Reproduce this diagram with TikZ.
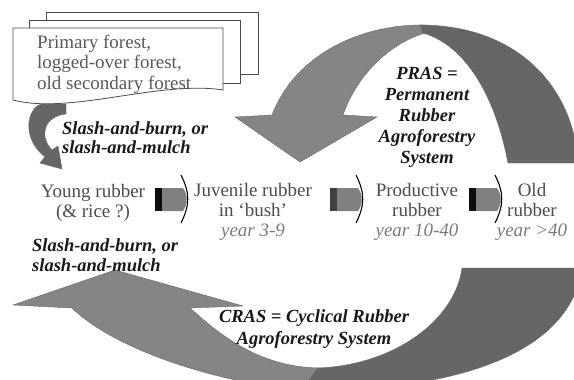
\documentclass[tikz,border=0pt]{standalone}
\usepackage{fontspec}
\setmainfont{LiberationSerif}[
  Extension=.ttf,
  UprightFont=*-Regular,
  BoldFont=*-Bold,
  ItalicFont=*-Italic,
  BoldItalicFont=*-BoldItalic]
\usepackage{xcolor}

\definecolor{bandlight}{gray}{0.52}
\definecolor{banddark}{gray}{0.40}
\definecolor{bodygrey}{gray}{0.50}
\definecolor{labelgrey}{gray}{0.30}
\definecolor{yeargrey}{gray}{0.48}

% block arrow between two stages: #1 = left x, #2 = colour of the bar
\newcommand{\stagearrow}[2]{%
  \fill[#2] (#1,188) rectangle (#1+7,211);
  \fill[bodygrey] (#1+7,188) -- (#1+28,188) .. controls (#1+33,195) and (#1+33,204) .. (#1+28,211) -- (#1+7,211) -- cycle;
  \draw[line width=1.1pt] (#1+26,175) .. controls (#1+35,193) and (#1+35,205) .. (#1+26,223);
}

\begin{document}
\begin{tikzpicture}
  [x=1pt,y=-1pt]
      \tikzstyle{page} = [draw=black!70, fill=white, line width=0.8pt]
      \tikzstyle{band} = [draw=black!60, line width=0.4pt]
      \tikzstyle{stage} = [font=\fontsize{19}{20}\selectfont, text=labelgrey, align=center, inner sep=0pt]
      \tikzstyle{note} = [font=\fontsize{18.5}{19.5}\selectfont\bfseries\itshape, text=black!90, inner sep=0pt]
  \useasboundingbox (0,0) rectangle (574,380);
  \clip (0,0) rectangle (574,380);

  % PRAS arrow (top)
  \fill[bandlight, band] (425,25) .. controls (360,24) and (295,55) .. (272,115)
    -- (235,117) -- (300,162) -- (377,117) -- (343,115)
    .. controls (355,80) and (385,45) .. (425,33) -- cycle;
  \fill[banddark, band] (420,25) .. controls (520,25) and (574,90) .. (578,163)
    -- (508,163) .. controls (495,95) and (465,45) .. (423,33) -- cycle;

  % CRAS arrow (bottom)
  \fill[bandlight, band] (190,308) -- (243,306) -- (115,270) -- (13,305) -- (72,308)
    .. controls (110,345) and (200,380) .. (308,392) -- (322,368)
    .. controls (260,368) and (220,335) .. (190,308) -- cycle;
  \fill[banddark, band] (318,368) .. controls (395,365) and (455,320) .. (462,268)
    -- (580,268) -- (580,280) .. controls (560,350) and (470,390) .. (300,392) -- cycle;

  % stack of forest pages
  \draw[page] (46,12) rectangle (258,74);
  \draw[page] (29,20) rectangle (240,83);
  \draw[page] (13,28) -- (223,28) -- (223,90) .. controls (160,80) and (70,115) .. (13,100) -- cycle;
  \node[font=\fontsize{19}{20.5}\selectfont, text=black!65, align=left, anchor=west, inner sep=0pt] (forest) at (37,64)
    {Primary forest,\\logged-over forest,\\old secondary forest};

  % small curved arrow down to young rubber
  \fill[banddark, band] (43,104) -- (66,104) -- (66,114)
    .. controls (45,116) and (38,135) .. (52,150) -- (58,146) -- (62,169) -- (40,163) -- (45,157)
    .. controls (18,135) and (30,104) .. (43,104) -- cycle;

  \node[note, align=left, anchor=west] (slashtop) at (62,137.5) {Slash-and-burn, or\\slash-and-mulch};
  \node[note, align=left, anchor=west] (slashlow) at (32,255) {Slash-and-burn, or\\slash-and-mulch};

  % stages
  \node[stage] (young) at (93,203) {Young rubber\\(\& rice ?)};
  \node[stage] (juvenile) at (253,212) {Juvenile rubber\\in `bush'\\\textcolor{yeargrey}{\itshape year 3-9}};
  \node[stage] (productive) at (417,212) {Productive\\rubber\\\textcolor{yeargrey}{\itshape year 10-40}};
  \node[stage] (old) at (532,212) {Old\\rubber\\\textcolor{yeargrey}{\itshape year \textgreater 40}};

  \stagearrow{155}{black!95}
  \stagearrow{330}{black!75}
  \stagearrow{469}{black!95}

  \node[note, align=center, font=\fontsize{18.5}{21}\selectfont\bfseries\itshape] (pras) at (427,117)
    {PRAS =\\Permanent\\Rubber\\Agroforestry\\System};
  \node[note, align=center, font=\fontsize{18.5}{22}\selectfont\bfseries\itshape] (cras) at (314,329)
    {CRAS = Cyclical Rubber\\Agroforestry System};
\end{tikzpicture}
\end{document}
